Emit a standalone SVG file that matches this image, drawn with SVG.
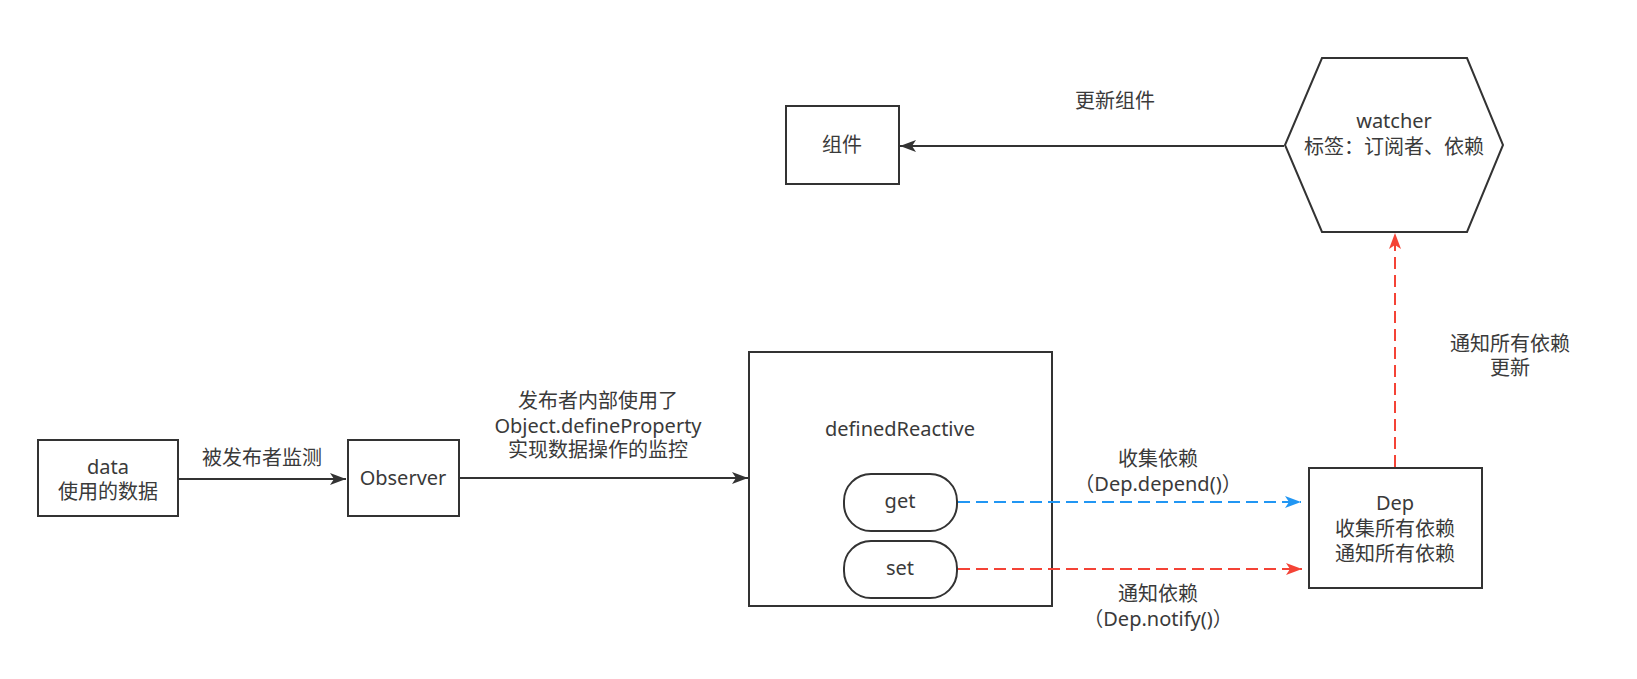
<svg xmlns="http://www.w3.org/2000/svg" width="1637" height="679" viewBox="0 0 1637 679">
  <style>
    .box { fill: #ffffff; stroke: #333333; stroke-width: 2; }
    .t { font-family: "Noto Sans", "Noto Sans CJK SC", sans-serif; font-size: 20px; fill: #3a3a3a; text-anchor: middle; }
    .solid { fill: none; stroke: #333333; stroke-width: 2; }
    .blue { fill: none; stroke: #2196f3; stroke-width: 2; stroke-dasharray: 12 6; }
    .red { fill: none; stroke: #f44336; stroke-width: 2; stroke-dasharray: 12 6; }
  </style>
  <defs>
    <marker id="ah-black" markerUnits="userSpaceOnUse" markerWidth="18" markerHeight="14" refX="16" refY="6" orient="auto">
      <path d="M0,0 L16,6 L0,12 L4,6 z" fill="#333333"/>
    </marker>
    <marker id="ah-blue" markerUnits="userSpaceOnUse" markerWidth="18" markerHeight="14" refX="16" refY="6" orient="auto">
      <path d="M0,0 L16,6 L0,12 L4,6 z" fill="#2196f3"/>
    </marker>
    <marker id="ah-red" markerUnits="userSpaceOnUse" markerWidth="18" markerHeight="14" refX="16" refY="6" orient="auto">
      <path d="M0,0 L16,6 L0,12 L4,6 z" fill="#f44336"/>
    </marker>
  </defs>
  <rect width="1637" height="679" fill="#ffffff"/>

  <g id="node-data">
    <rect class="box" x="38" y="440" width="140" height="76"/>
    <text class="t" x="108" y="474">data</text>
    <text class="t" x="108" y="499">使用的数据</text>
  </g>

  <g id="node-observer">
    <rect class="box" x="348" y="440" width="111" height="76"/>
    <text class="t" x="403" y="485">Observer</text>
  </g>

  <g id="node-definedReactive">
    <rect class="box" x="749" y="352" width="303" height="254"/>
    <text class="t" x="900" y="436">definedReactive</text>
  </g>

  <g id="node-get">
    <rect class="box" x="844" y="474" width="113" height="57" rx="27" ry="27"/>
    <text class="t" x="900" y="508">get</text>
  </g>

  <g id="node-set">
    <rect class="box" x="844" y="541" width="113" height="57" rx="27" ry="27"/>
    <text class="t" x="900" y="575">set</text>
  </g>

  <g id="node-dep">
    <rect class="box" x="1309" y="468" width="173" height="120"/>
    <text class="t" x="1395" y="510">Dep</text>
    <text class="t" x="1395" y="536">收集所有依赖</text>
    <text class="t" x="1395" y="561">通知所有依赖</text>
  </g>

  <g id="node-watcher">
    <polygon class="box" points="1322,58 1467,58 1503,145 1467,232 1322,232 1285,145"/>
    <text class="t" x="1394" y="128">watcher</text>
    <text class="t" x="1394" y="154">标签：订阅者、依赖</text>
  </g>

  <g id="node-component">
    <rect class="box" x="786" y="106" width="113" height="78"/>
    <text class="t" x="842" y="152">组件</text>
  </g>

  <g id="connectors">
    <line class="solid" x1="179" y1="479" x2="346" y2="479" marker-end="url(#ah-black)"/>
    <line class="solid" x1="460" y1="478" x2="748" y2="478" marker-end="url(#ah-black)"/>
    <line class="solid" x1="1284" y1="146" x2="900" y2="146" marker-end="url(#ah-black)"/>
    <line class="blue" x1="958" y1="502" x2="1301" y2="502" marker-end="url(#ah-blue)"/>
    <line class="red" x1="958" y1="569" x2="1302" y2="569" marker-end="url(#ah-red)"/>
    <line class="red" x1="1395" y1="467" x2="1395" y2="233" marker-end="url(#ah-red)"/>
    <text class="t" x="262" y="465">被发布者监测</text>
    <text class="t" x="598" y="408">发布者内部使用了</text>
    <text class="t" x="598" y="433">Object.defineProperty</text>
    <text class="t" x="598" y="457">实现数据操作的监控</text>
    <text class="t" x="1158" y="466">收集依赖</text>
    <text class="t" x="1158" y="491">（Dep.depend()）</text>
    <text class="t" x="1158" y="601">通知依赖</text>
    <text class="t" x="1158" y="626">（Dep.notify()）</text>
    <text class="t" x="1510" y="351">通知所有依赖</text>
    <text class="t" x="1510" y="375">更新</text>
    <text class="t" x="1115" y="108">更新组件</text>
  </g>
</svg>
